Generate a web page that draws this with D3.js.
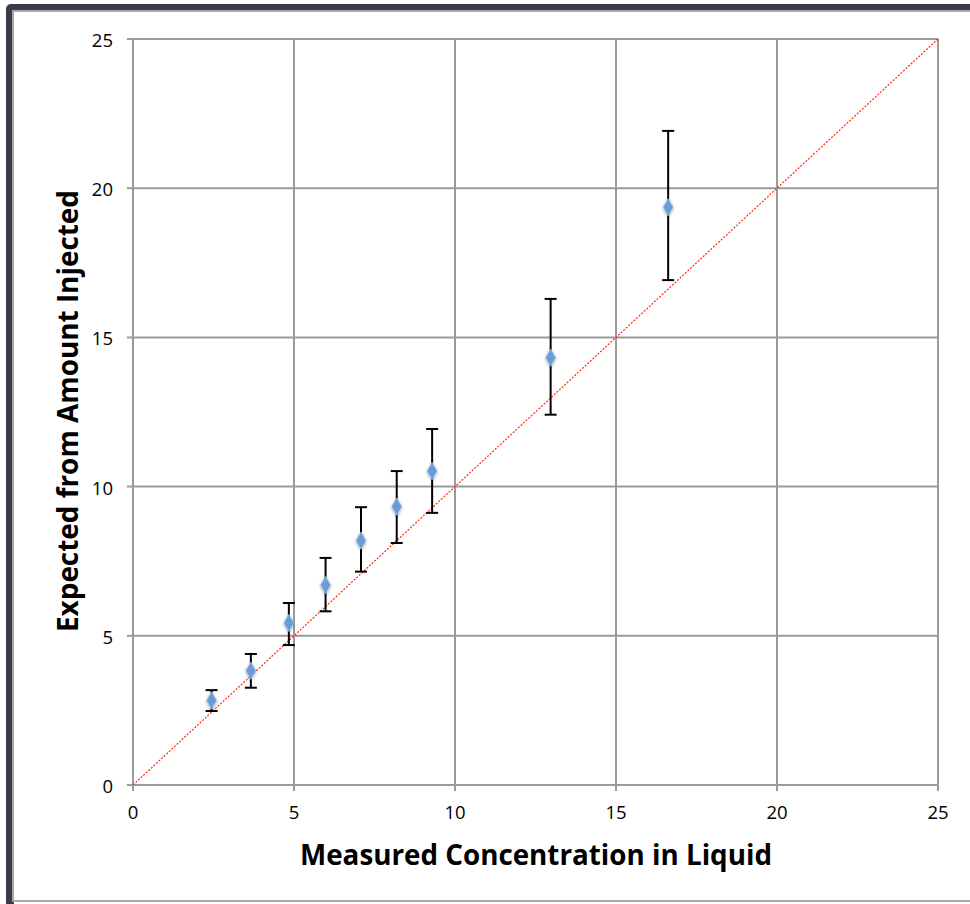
<!DOCTYPE html>
<html><head><meta charset="utf-8">
<script src="https://cdn.jsdelivr.net/npm/d3@7"></script>
<style>html,body{margin:0;padding:0;background:#fff;}svg{display:block;}</style>
</head><body><svg id="c" width="970" height="904"></svg>
<script>
const measured = [2.44, 3.66, 4.84, 5.98, 7.08, 8.19, 9.29, 12.97, 16.62];
const expected = [2.83, 3.83, 5.43, 6.70, 8.19, 9.33, 10.52, 14.32, 19.36];
const errLow   = [2.48, 3.26, 4.69, 5.82, 7.15, 8.11, 9.12, 12.41, 16.92];
const errHigh  = [3.18, 4.39, 6.10, 7.61, 9.31, 10.52, 11.93, 16.29, 21.92];
const xTicks = [0, 5, 10, 15, 20, 25];
const yTicks = [0, 5, 10, 15, 20, 25];
const xTitle = "Measured Concentration in Liquid";
const yTitle = "Expected from Amount Injected";

const svg = d3.select("#c");
// window frame
svg.append("rect").attr("x",6).attr("y",4).attr("width",980).attr("height",920).attr("rx",5).attr("fill","#3a3b48");
svg.append("rect").attr("x",12).attr("y",10).attr("width",970).attr("height",892).attr("fill","#a8a8a8");
svg.append("rect").attr("x",14).attr("y",12).attr("width",970).attr("height",888).attr("fill","#fff");
svg.append("rect").attr("x",14).attr("y",902).attr("width",970).attr("height",10).attr("fill","#fff");
svg.append("rect").attr("x",0).attr("y",902).attr("width",6).attr("height",10).attr("fill","#fff");

const x = d3.scaleLinear().domain([0,25]).range([133,938]);
const y = d3.scaleLinear().domain([0,25]).range([785,39]);
const grid = "#9a9a9a";
const font = "'Open Sans', sans-serif";

// gridlines
const g = svg.append("g");
g.selectAll("line.v").data(xTicks).join("line")
  .attr("x1",d=>x(d)).attr("x2",d=>x(d)).attr("y1",y(25)).attr("y2",y(0)+6)
  .attr("stroke",grid).attr("stroke-width",2);
g.selectAll("line.h").data(yTicks).join("line")
  .attr("y1",d=>y(d)).attr("y2",d=>y(d)).attr("x1",x(0)-6).attr("x2",x(25))
  .attr("stroke",grid).attr("stroke-width",2);

// tick labels
svg.append("g").selectAll("text").data(yTicks).join("text")
  .attr("x",113).attr("y",d=>y(d)+8).attr("text-anchor","end")
  .attr("font-family",font).attr("font-size",18.5).attr("fill","#000").text(d=>d);
svg.append("g").selectAll("text").data(xTicks).join("text")
  .attr("x",d=>x(d)).attr("y",y(0)+34).attr("text-anchor","middle")
  .attr("font-family",font).attr("font-size",18.5).attr("fill","#000").text(d=>d);

// identity line
svg.append("line").attr("x1",x(0)).attr("y1",y(0)).attr("x2",x(25)).attr("y2",y(25))
  .attr("stroke","#ff2a10").attr("stroke-width",1.2).attr("stroke-dasharray","2,1.5");

const data = measured.map((m,i)=>({m, e:expected[i], lo:errLow[i], hi:errHigh[i]}));

// error bars
const eb = svg.append("g").attr("stroke","#000").attr("stroke-width",2);
eb.selectAll("line.s").data(data).join("line")
  .attr("x1",d=>x(d.m)).attr("x2",d=>x(d.m)).attr("y1",d=>y(d.lo)).attr("y2",d=>y(d.hi));
eb.selectAll("line.t").data(data).join("line")
  .attr("x1",d=>x(d.m)-6).attr("x2",d=>x(d.m)+6).attr("y1",d=>y(d.hi)).attr("y2",d=>y(d.hi));
eb.selectAll("line.b").data(data).join("line")
  .attr("x1",d=>x(d.m)-6).attr("x2",d=>x(d.m)+6).attr("y1",d=>y(d.lo)).attr("y2",d=>y(d.lo));

// markers
const defs = svg.append("defs");
const f = defs.append("filter").attr("id","blur").attr("x","-50%").attr("y","-50%").attr("width","200%").attr("height","200%");
f.append("feGaussianBlur").attr("stdDeviation",1.6).attr("in","SourceAlpha").attr("result","b");
f.append("feOffset").attr("dy",1).attr("in","b").attr("result","o");
f.append("feFlood").attr("flood-color","#000").attr("flood-opacity",0.35);
f.append("feComposite").attr("in2","o").attr("operator","in").attr("result","sh");
const fm = f.append("feMerge");
fm.append("feMergeNode").attr("in","sh");
fm.append("feMergeNode").attr("in","SourceGraphic");
const sym = d3.symbol().type(d3.symbolDiamond).size(85);
svg.append("g").selectAll("path").data(data).join("path")
  .attr("d",sym).attr("transform",d=>`translate(${x(d.m)},${y(d.e)})`)
  .attr("fill","#6b9bd6").attr("stroke","#9cc0ea").attr("stroke-width",0.8)
  .attr("filter","url(#blur)");

// titles
svg.append("text").attr("x",536).attr("y",865).attr("text-anchor","middle")
  .attr("font-family",font).attr("font-weight","bold").attr("font-size",29)
  .attr("textLength",472).attr("lengthAdjust","spacingAndGlyphs").text(xTitle);
svg.append("text").attr("transform","translate(78,411) rotate(-90)").attr("text-anchor","middle")
  .attr("font-family",font).attr("font-weight","bold").attr("font-size",29)
  .attr("textLength",442).attr("lengthAdjust","spacingAndGlyphs").text(yTitle);
</script></body></html>
